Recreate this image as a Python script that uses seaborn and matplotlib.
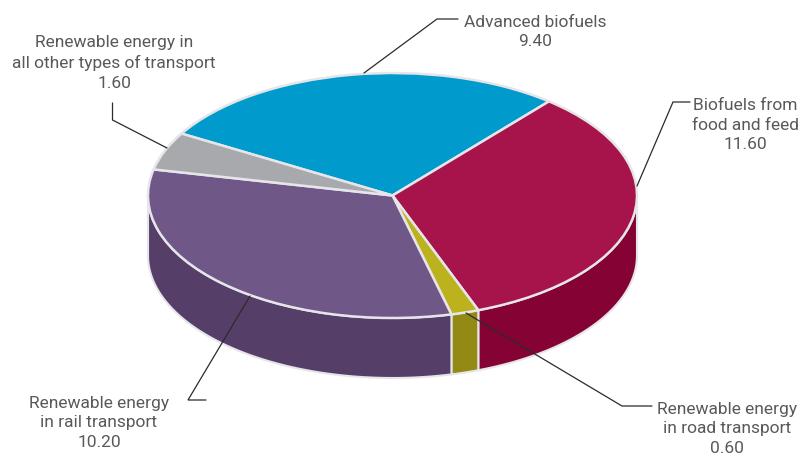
import numpy as np
import matplotlib
matplotlib.use("Agg")
import matplotlib.pyplot as plt
import seaborn as sns

# Renewable energy shares by transport category
categories = [
    "Advanced biofuels",
    "Biofuels from\nfood and feed",
    "Renewable energy\nin road transport",
    "Renewable energy\nin rail transport",
    "Renewable energy in\nall other types of transport",
]
values = [9.40, 11.60, 0.60, 10.20, 1.60]
top_colors = ["#009ACD", "#A6144B", "#BBB21E", "#6F5788", "#A8A9AD"]
side_colors = ["#007DA6", "#850235", "#928A14", "#553F69", "#87888C"]

WIDTH, HEIGHT = 800, 455
CX, CY, RX, RY, DEPTH = 392.5, 195.5, 244.5, 122.5, 60.0
START_ANGLE = 153.0
EDGE = "#E6E6EA"
TEXT = "#58595B"

sns.set_style("white")
plt.rcParams["font.family"] = ["Roboto", "DejaVu Sans"]

fig = plt.figure(figsize=(WIDTH / 100, HEIGHT / 100), dpi=100, facecolor="white")
ax = fig.add_axes([0, 0, 1, 1])


def to_data(px, py):
    """Pixel position (origin top left) to pie coordinates."""
    return (px - CX) / RX, (CY - py) / RY


def foreshorten(deg):
    """Slight angular shift caused by viewing the tilted disc in perspective."""
    return deg + 4.0 * np.cos(np.radians(deg + 60.0))


# Slice boundaries from the values, seen through the tilted view
fractions = np.array(values) / np.sum(values)
edges = foreshorten(START_ANGLE - np.concatenate([[0], np.cumsum(fractions) * 360]))

# Side wall of the disc
depth = DEPTH / RY
for a0, a1, colour in zip(edges[:-1], edges[1:], side_colors):
    low, high = max(a1, -180), min(a0, 0)
    if low >= high:
        continue
    theta = np.radians(np.linspace(high, low, 120))
    x, y = np.cos(theta), np.sin(theta)
    ax.fill(np.r_[x, x[::-1]], np.r_[y, (y - depth)[::-1]],
            facecolor=colour, edgecolor=EDGE, linewidth=1.5, zorder=1,
            joinstyle="round")

# Top face
wedges, _ = ax.pie(values, colors=sns.color_palette(top_colors), startangle=START_ANGLE,
                   counterclock=False, radius=1,
                   wedgeprops=dict(edgecolor=EDGE, linewidth=1.8, zorder=2))
for wedge, a0, a1 in zip(wedges, edges[:-1], edges[1:]):
    wedge.set_theta1(a1)
    wedge.set_theta2(a0)
ax.set_aspect("auto")
x0, y1 = to_data(0, 0)
x1, y0 = to_data(WIDTH, HEIGHT)
ax.set_xlim(x0, x1)
ax.set_ylim(y0, y1)
ax.axis("off")

# Leader lines from each label to its slice
leaders = [
    [(458, 19), (437, 19), (364, 73)],
    [(690, 102), (673, 102), (637, 186)],
    [(652, 406), (622, 406), (466, 313)],
    [(206, 400), (188, 400), (250, 296)],
    [(112.5, 103), (112.5, 120), (167, 148)],
]
for pts in leaders:
    xs, ys = zip(*(to_data(*p) for p in pts))
    ax.plot(xs, ys, color="#2B2B2B", linewidth=0.9, zorder=3, solid_joinstyle="miter")

# Category labels with their values
label_pos = [(535, 32), (745, 125), (727, 429), (99, 423), (114, 63)]
for name, val, (px, py) in zip(categories, values, label_pos):
    ax.text(*to_data(px, py), f"{name}\n{val:.2f}", ha="center", va="center",
            ma="center", fontsize=12.5, color=TEXT, linespacing=1.4, zorder=4)

fig.savefig("out.png", dpi=100, facecolor="white")
